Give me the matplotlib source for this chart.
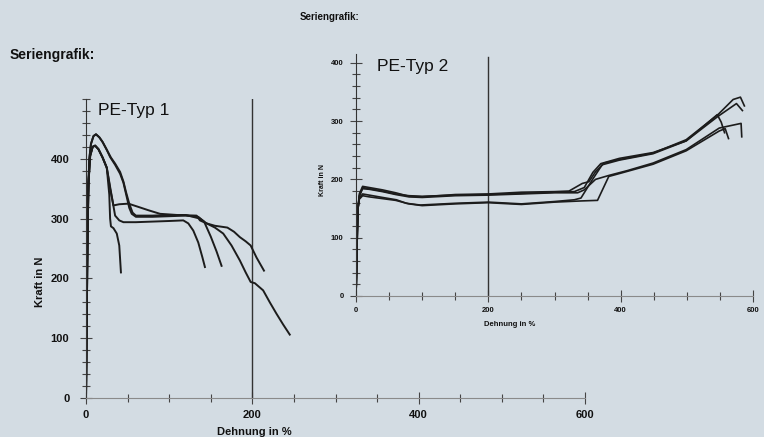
import numpy as np
import matplotlib.pyplot as plt
from matplotlib.ticker import MultipleLocator, FixedLocator

# PE-Typ 1: five specimens (Dehnung in %, Kraft in N)
t1_x1 = [0, 1, 2, 3, 5, 8, 11, 15, 20, 25, 28, 29, 30, 33, 37, 40, 42]
t1_y1 = [0, 150, 280, 360, 405, 420, 422, 416, 402, 385, 340, 300, 287, 284, 275, 255, 210]
t1_x2 = [0, 1, 2, 3, 5, 8, 11, 15, 20, 25, 30, 35, 40, 45, 60, 80, 100, 117, 123, 129, 135, 140, 143]
t1_y2 = [0, 150, 280, 360, 405, 420, 422, 416, 402, 385, 345, 305, 297, 294, 294, 295, 296, 297, 292, 280, 260, 235, 219]
t1_x3 = [0, 1, 2, 4, 6, 9, 12, 16, 20, 25, 29, 35, 41, 45, 49, 52, 55, 60, 80, 100, 120, 135, 142, 150, 157, 163]
t1_y3 = [0, 180, 320, 400, 425, 438, 441, 436, 428, 415, 403, 390, 375, 360, 336, 318, 308, 303, 303, 304, 305, 303, 295, 270, 245, 221]
t1_x4 = [0, 1, 2, 4, 6, 9, 12, 16, 20, 25, 30, 35, 41, 45, 48, 52, 56, 60, 80, 100, 120, 137, 145, 155, 165, 170, 178, 185, 192, 198, 205, 214]
t1_y4 = [0, 180, 320, 400, 425, 438, 441, 436, 428, 415, 402, 392, 378, 362, 345, 325, 310, 305, 305, 306, 306, 300, 292, 288, 286, 285, 278, 269, 262, 255, 235, 213]
t1_x5 = [0, 1, 2, 3, 5, 8, 11, 15, 20, 25, 29, 33, 40, 51, 62, 75, 89, 110, 133, 137, 145, 155, 165, 175, 185, 192, 198, 203, 213, 221, 229, 237, 245]
t1_y5 = [0, 150, 280, 360, 405, 420, 422, 416, 402, 385, 350, 322, 324, 325, 320, 314, 308, 306, 305, 297, 292, 285, 275, 255, 230, 210, 194, 192, 180, 160, 141, 123, 106]

# PE-Typ 2: five specimens
t2_x1 = [0, 1, 2, 3, 5, 10, 20, 40, 60, 80, 100, 150, 200, 250, 300, 322, 342, 352, 362, 375, 398, 449, 499, 547, 570, 581, 587]
t2_y1 = [0, 50, 110, 150, 175, 188, 186, 182, 177, 171, 170, 174, 175, 178, 179, 180, 193, 196, 213, 228, 234, 245, 268, 311, 337, 341, 326]
t2_x2 = [0, 1, 2, 3, 5, 10, 20, 40, 61, 76, 97, 150, 200, 250, 300, 330, 340, 357, 372, 398, 449, 499, 546, 552, 557]
t2_y2 = [0, 50, 110, 150, 168, 175, 173, 169, 165, 159, 156, 159, 161, 158, 162, 165, 168, 199, 225, 233, 244, 266, 311, 298, 280]
t2_x3 = [0, 1, 2, 3, 5, 10, 20, 40, 60, 80, 100, 150, 200, 250, 300, 335, 345, 362, 383, 410, 449, 499, 549, 582, 583]
t2_y3 = [0, 50, 110, 150, 172, 184, 183, 179, 174, 170, 169, 172, 173, 175, 177, 177, 182, 200, 207, 215, 228, 251, 288, 296, 273]
t2_x4 = [0, 1, 2, 3, 5, 10, 20, 40, 60, 80, 100, 150, 200, 250, 300, 340, 365, 382, 395, 449, 499, 549, 558, 563]
t2_y4 = [0, 50, 110, 150, 166, 172, 170, 167, 164, 158, 155, 158, 160, 157, 161, 163, 164, 205, 209, 226, 249, 283, 287, 270]
t2_x5 = [0, 1, 2, 3, 5, 10, 20, 40, 60, 80, 100, 150, 200, 250, 300, 330, 345, 358, 370, 398, 449, 499, 547, 575, 584]
t2_y5 = [0, 50, 110, 150, 170, 186, 184, 180, 175, 172, 171, 173, 174, 176, 178, 179, 186, 212, 227, 236, 246, 266, 308, 330, 318]

y_labels = [0, 100, 200, 300, 400]

bg = '#d3dce3'
W, H = 764, 437
fig = plt.figure(figsize=(W / 100, H / 100), dpi=100, facecolor=bg)


def px_axes(l, r, b, t):
    return fig.add_axes([l / W, 1 - b / H, (r - l) / W, (b - t) / H])


def style(ax, ymax, fs, pads):
    ax.set_facecolor('none')
    ax.set_xlim(0, 600)
    ax.set_ylim(0, ymax)
    for s in ['top', 'right']:
        ax.spines[s].set_visible(False)
    ax.spines['left'].set_color('#333333')
    ax.spines['bottom'].set_color('#8a8a8a')
    ax.xaxis.set_major_locator(MultipleLocator(200))
    ax.xaxis.set_minor_locator(MultipleLocator(50))
    ax.yaxis.set_major_locator(FixedLocator(y_labels))
    ax.yaxis.set_minor_locator(MultipleLocator(20))
    ax.tick_params(which='both', direction='inout', colors='#444444', width=0.8)
    ax.tick_params(which='major', length=8)
    ax.tick_params(which='minor', length=6)
    ax.tick_params(labelsize=fs, labelcolor='#111111')
    for lab in ax.get_xticklabels() + ax.get_yticklabels():
        lab.set_fontweight('bold')
        lab.set_family('Liberation Sans')
    ax.tick_params(axis='x', pad=pads[0])
    ax.tick_params(axis='y', pad=pads[1])


ink = '#1c1c1c'

ax1 = px_axes(86, 585, 398, 99)
style(ax1, 500, 8, (5, 8))
ax1.axvline(200, color='#333333', lw=1.0)
for xs, ys in [(t1_x1, t1_y1), (t1_x2, t1_y2), (t1_x3, t1_y3), (t1_x4, t1_y4), (t1_x5, t1_y5)]:
    ax1.plot(xs, ys, color=ink, lw=1.4)

ax2 = px_axes(356, 753, 296, 54)
style(ax2, 415, 5.5, (4, 5))
ax2.axvline(200, ymax=410 / 415, color='#333333', lw=1.0)
for xs, ys in [(t2_x1, t2_y1), (t2_x2, t2_y2), (t2_x3, t2_y3), (t2_x4, t2_y4), (t2_x5, t2_y5)]:
    ax2.plot(xs, ys, color=ink, lw=1.2)


def ftext(x, y, s, **kw):
    fig.text(x / W, 1 - y / H, s, family='Liberation Sans', color='#111111', **kw)


ftext(10, 55, 'Seriengrafik:', fontsize=10, fontweight='bold', va='center')
ftext(300, 17, 'Seriengrafik:', fontsize=7, fontweight='bold', va='center')
ftext(98, 110, 'PE-Typ 1', fontsize=12.5, va='center')
ftext(377, 67, 'PE-Typ 2', fontsize=12.5, va='center')
ftext(40, 282, 'Kraft in N', fontsize=8, fontweight='bold', rotation=90, ha='center', va='center')
ftext(254, 432, 'Dehnung in %', fontsize=8, fontweight='bold', ha='center', va='center')
ftext(323, 180, 'Kraft in N', fontsize=5, fontweight='bold', rotation=90, ha='center', va='center')
ftext(510, 325, 'Dehnung in %', fontsize=5.5, fontweight='bold', ha='center', va='center')

fig.savefig('out.png', dpi=100, facecolor=bg)
